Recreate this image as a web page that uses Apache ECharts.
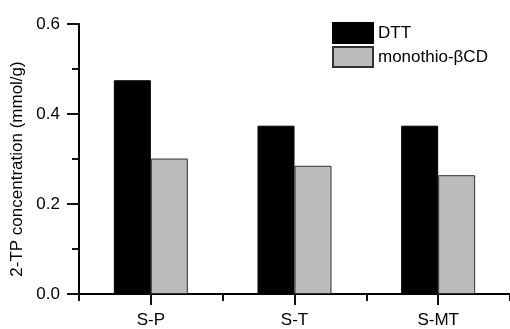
<!DOCTYPE html>
<html><head><meta charset="utf-8">
<script src="https://cdn.jsdelivr.net/npm/echarts@6/dist/echarts.min.js"></script>
<style>html,body{margin:0;padding:0;background:#fff}#c{width:510px;height:329px}</style>
</head><body><div id="c"></div>
<script>
var categories = ['S-P', 'S-T', 'S-MT'];
var dttValues = [0.475, 0.374, 0.374];
var monoValues = [0.301, 0.285, 0.264];
var yTicks = [0, 0.2, 0.4, 0.6];

var font = 'Liberation Sans, Arial, sans-serif';
var tickColor = '#111111';
var chart = echarts.init(document.getElementById('c'), null, {renderer: 'canvas'});
chart.setOption({
  animation: false,
  backgroundColor: '#fff',
  grid: {left: 79, right: -10, top: 24, bottom: 33},
  legend: {
    orient: 'vertical', left: 332, top: 22, padding: 0, itemWidth: 40, itemHeight: 20, itemGap: 2,
    icon: 'rect',
    textStyle: {fontFamily: font, fontSize: 17, color: '#000'},
    data: ['DTT', 'monothio-βCD']
  },
  xAxis: [{
    type: 'category', data: categories, boundaryGap: true,
    axisLine: {show: true, lineStyle: {color: '#000', width: 2}},
    axisTick: {show: true, interval: 0, alignWithLabel: true, length: 11, lineStyle: {color: tickColor, width: 2}},
    axisLabel: {show: true, interval: 0, fontFamily: font, fontSize: 17, color: '#000', margin: 18}
  }, {
    type: 'category', data: categories, boundaryGap: true, position: 'bottom',
    axisLine: {show: false},
    axisTick: {show: true, interval: 0, length: 7, lineStyle: {color: tickColor, width: 2}},
    axisLabel: {show: false}
  }],
  yAxis: {
    type: 'value', min: yTicks[0], max: yTicks[yTicks.length - 1], interval: 0.2,
    name: '2-TP concentration (mmol/g)', nameLocation: 'middle', nameGap: 43,
    nameTextStyle: {fontFamily: font, fontSize: 17, color: '#000', padding: [0, 20, 0, 0]},
    axisLine: {show: true, lineStyle: {color: '#000', width: 2}},
    axisTick: {show: true, inside: false, length: 12, lineStyle: {color: tickColor, width: 2}},
    minorTick: {show: true, splitNumber: 2, length: 7, lineStyle: {color: tickColor, width: 2}},
    splitLine: {show: false},
    axisLabel: {show: true, fontFamily: font, fontSize: 17, color: '#000', margin: 19,
      formatter: function (v) { return v.toFixed(1); }}
  },
  series: [{
    name: 'DTT', type: 'bar', data: dttValues, barWidth: 37, barGap: '0%',
    itemStyle: {color: '#000', borderColor: '#000', borderWidth: 1}
  }, {
    name: 'monothio-βCD', type: 'bar', data: monoValues, barWidth: 37, barGap: '0%',
    itemStyle: {color: '#bbbbbb', borderColor: '#333', borderWidth: 1}
  }]
});
</script></body></html>
